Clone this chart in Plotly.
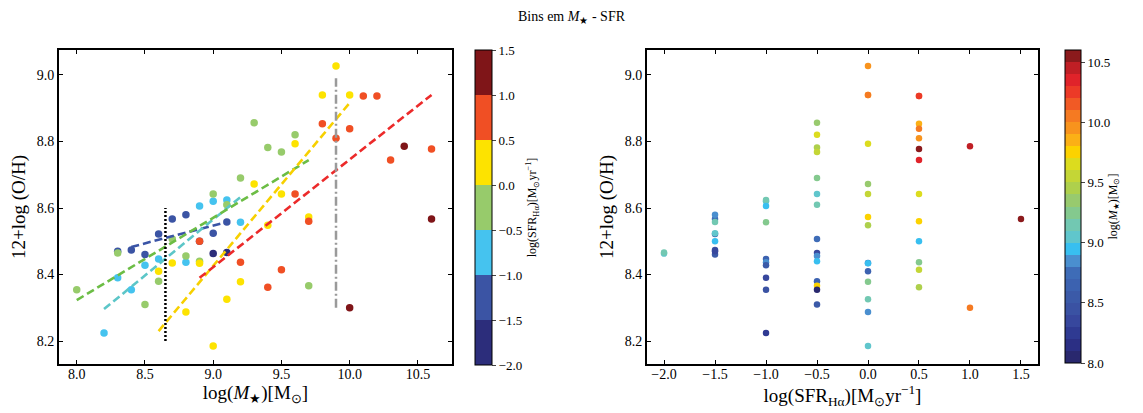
import plotly.graph_objects as go

# ---------------- data ----------------
mass = [9.0, 9.1,
        8.7, 8.8, 9.1, 8.6, 9.0, 8.4, 8.5, 8.9, 8.3,
        9.0, 9.1, 8.9, 9.2, 8.6, 8.8, 8.5, 8.3, 8.4, 8.2,
        9.3, 9.6, 9.4, 9.5, 9.2, 9.0, 9.1, 8.7, 8.3, 8.8, 8.9, 8.6, 9.7, 8.0, 8.5,
        9.9, 9.8, 10.0, 9.6, 9.3, 9.5, 9.7, 9.4, 8.7, 8.9, 8.6, 9.2, 9.1, 8.8, 9.0,
        10.1, 10.2, 9.8, 10.0, 9.9, 10.6, 10.3, 9.6, 9.7, 8.9, 9.2, 9.5, 9.4,
        10.4, 10.0,
        10.6]
sfr = [-2.0, -2.0,
       -1.5, -1.5, -1.5, -1.5, -1.5, -1.5, -1.5, -1.5, -1.5,
       -1.0, -1.0, -1.0, -1.0, -1.0, -1.0, -1.0, -1.0, -1.0, -1.0,
       -0.5, -0.5, -0.5, -0.5, -0.5, -0.5, -0.5, -0.5, -0.5, -0.5, -0.5, -0.5, -0.5, -0.5, -0.5,
       0.0, 0.0, 0.0, 0.0, 0.0, 0.0, 0.0, 0.0, 0.0, 0.0, 0.0, 0.0, 0.0, 0.0, 0.0,
       0.5, 0.5, 0.5, 0.5, 0.5, 0.5, 0.5, 0.5, 0.5, 0.5, 0.5, 0.5, 0.5,
       1.0, 1.0,
       1.5]
oh = [8.463, 8.466,
      8.567, 8.580, 8.558, 8.522, 8.524, 8.474, 8.460, 8.500, 8.470,
      8.620, 8.624, 8.606, 8.557, 8.447, 8.437, 8.428, 8.390, 8.354, 8.224,
      8.856, 8.820, 8.782, 8.768, 8.690, 8.642, 8.610, 8.507, 8.465, 8.456, 8.440, 8.380, 8.366, 8.354, 8.310,
      9.027, 8.940, 8.940, 8.793, 8.672, 8.642, 8.573, 8.548, 8.435, 8.434, 8.410, 8.378, 8.326, 8.287, 8.185,
      8.937, 8.937, 8.853, 8.838, 8.810, 8.777, 8.744, 8.642, 8.560, 8.500, 8.437, 8.414, 8.362,
      8.786, 8.300,
      8.567]

# fitted relations per SFR bin (left panel)
fit_x = [[8.4, 9.1], [8.2, 9.2], [8.0, 9.7], [8.6, 10.0], [8.9, 10.6]]
fit_y = [[8.483, 8.558], [8.296, 8.633], [8.323, 8.744], [8.230, 8.916], [8.390, 8.940]]
fit_colors = ["#3a54a6", "#5cc6c8", "#6cbd45", "#f7d000", "#ec2a2a"]

# vertical reference lines
vline_x = [8.65, 9.9]
vline_y = [[8.2, 8.6], [8.30, 8.99]]

sfr_ticks = [-2.0, -1.5, -1.0, -0.5, 0.0, 0.5, 1.0, 1.5]
mass_ticks = [8.0, 8.5, 9.0, 9.5, 10.0, 10.5]

sfr_colors = ["#2c2d7b", "#3b54a4", "#45c3ef", "#97cb6b", "#fde300", "#f04f24", "#7f1518"]
mass_colors = ["#29286e", "#2b2f84", "#2f3a92", "#37479d", "#3a52a3",
               "#3b5aa8", "#3c62b0", "#3e6cb7", "#4a8fcf", "#38bff0",
               "#60c6cc", "#72c8b2", "#84c98e", "#98ca6e", "#aed04c",
               "#c4d636", "#dcdc1e", "#fcd200", "#fbb016", "#f8931d",
               "#f57a22", "#f15a25", "#ec3a27", "#e0232a", "#c01f25", "#8b1a1c"]

FONT = "Liberation Serif"


def discrete_scale(colors, eps=1e-6):
    n = len(colors)
    scale = []
    for k, c in enumerate(colors):
        lo = 0.0 if k == 0 else k / n - eps
        hi = 1.0 if k == n - 1 else (k + 1) / n - eps
        scale += [[lo, c], [hi, c]]
    return scale


fig = go.Figure()

# left panel scatter, coloured by SFR
fig.add_trace(go.Scatter(
    x=mass, y=oh, mode="markers", xaxis="x", yaxis="y", showlegend=False,
    marker=dict(size=7.5, color=sfr, colorscale=discrete_scale(sfr_colors),
                cmin=-2.0, cmax=1.5, line=dict(width=0),
                colorbar=dict(
                    x=475 / 1143, xanchor="left", y=1 - 365 / 413, yanchor="bottom",
                    xpad=0, ypad=0,
                    len=315 / 413, lenmode="fraction", thickness=17, thicknessmode="pixels",
                    outlinewidth=1, outlinecolor="black",
                    tickvals=sfr_ticks, tickformat=".1f", ticks="outside", ticklen=4,
                    tickfont=dict(family=FONT, size=13, color="black"),
                    title=dict(text="log(SFR<sub>Hα</sub>)[M<sub>⊙</sub>yr<sup>−1</sup>]",
                               side="right", font=dict(family=FONT, size=12, color="black")),
                )),
))

for xs, ys, c in zip(fit_x, fit_y, fit_colors):
    fig.add_trace(go.Scatter(x=xs, y=ys, mode="lines", xaxis="x", yaxis="y", showlegend=False,
                             line=dict(color=c, width=2.6, dash="8px,4px")))

fig.add_trace(go.Scatter(x=[vline_x[0]] * 2, y=vline_y[0], mode="lines", xaxis="x", yaxis="y",
                         showlegend=False, line=dict(color="black", width=2.5, dash="2px,2px")))
fig.add_trace(go.Scatter(x=[vline_x[1]] * 2, y=vline_y[1], mode="lines", xaxis="x", yaxis="y",
                         showlegend=False, line=dict(color="#9a9a9a", width=2.5, dash="9px,3px,2px,3px")))

# right panel scatter, coloured by mass
fig.add_trace(go.Scatter(
    x=sfr, y=oh, mode="markers", xaxis="x2", yaxis="y2", showlegend=False,
    marker=dict(size=6.5, color=mass, colorscale=discrete_scale(mass_colors),
                cmin=8.0, cmax=10.6, line=dict(width=0),
                colorbar=dict(
                    x=1065 / 1143, xanchor="left", y=1 - 363 / 413, yanchor="bottom",
                    xpad=0, ypad=0,
                    len=313 / 413, lenmode="fraction", thickness=16, thicknessmode="pixels",
                    outlinewidth=1, outlinecolor="black",
                    tickvals=mass_ticks, tickformat=".1f", ticks="outside", ticklen=4,
                    tickfont=dict(family=FONT, size=13, color="black"),
                    title=dict(text="log(<i>M</i><sub>★</sub>)[M<sub>⊙</sub>]",
                               side="right", font=dict(family=FONT, size=12, color="black")),
                )),
))

axis_common = dict(showline=True, linecolor="black", linewidth=2, mirror="allticks",
                   ticks="inside", ticklen=4, tickwidth=1, tickcolor="black",
                   showgrid=False, zeroline=False,
                   tickfont=dict(family=FONT, size=14, color="black"))

fig.update_layout(
    width=1143, height=413,
    margin=dict(l=0, r=0, t=0, b=0),
    paper_bgcolor="white", plot_bgcolor="white",
    font=dict(family=FONT, color="black"),
    title=dict(text="Bins em <i>M</i><sub>★</sub> - SFR", x=0.5, xanchor="center",
               y=1 - 16 / 413, yanchor="middle", font=dict(family=FONT, size=14, color="black")),
    xaxis=dict(domain=[59 / 1143, 452 / 1143], range=[7.87, 10.75], anchor="y",
               tickvals=[8.0, 8.5, 9.0, 9.5, 10.0, 10.5], tickformat=".1f",
               ticklabelstandoff=-4,
               title=dict(text="log(<i>M</i><sub>★</sub>)[M<sub>⊙</sub>]", standoff=2,
                          font=dict(family=FONT, size=19, color="black")),
               **axis_common),
    yaxis=dict(domain=[1 - 364 / 413, 1 - 50 / 413], range=[8.131, 9.075], anchor="x",
               tickvals=[8.2, 8.4, 8.6, 8.8, 9.0], tickformat=".1f",
               title=dict(text="12+log (O/H)", standoff=6,
                          font=dict(family=FONT, size=19, color="black")),
               **axis_common),
    xaxis2=dict(domain=[647 / 1143, 1038 / 1143], range=[-2.167, 1.667], anchor="y2",
                tickvals=sfr_ticks, tickformat=".1f",
                ticklabelstandoff=-4,
                title=dict(text="log(SFR<sub>Hα</sub>)[M<sub>⊙</sub>yr<sup>−1</sup>]", standoff=2,
                           font=dict(family=FONT, size=19, color="black")),
                **axis_common),
    yaxis2=dict(domain=[1 - 364 / 413, 1 - 50 / 413], range=[8.131, 9.075], anchor="x2",
                tickvals=[8.2, 8.4, 8.6, 8.8, 9.0], tickformat=".1f",
                title=dict(text="12+log (O/H)", standoff=6,
                           font=dict(family=FONT, size=19, color="black")),
                **axis_common),
)

fig.write_html("out.html")
